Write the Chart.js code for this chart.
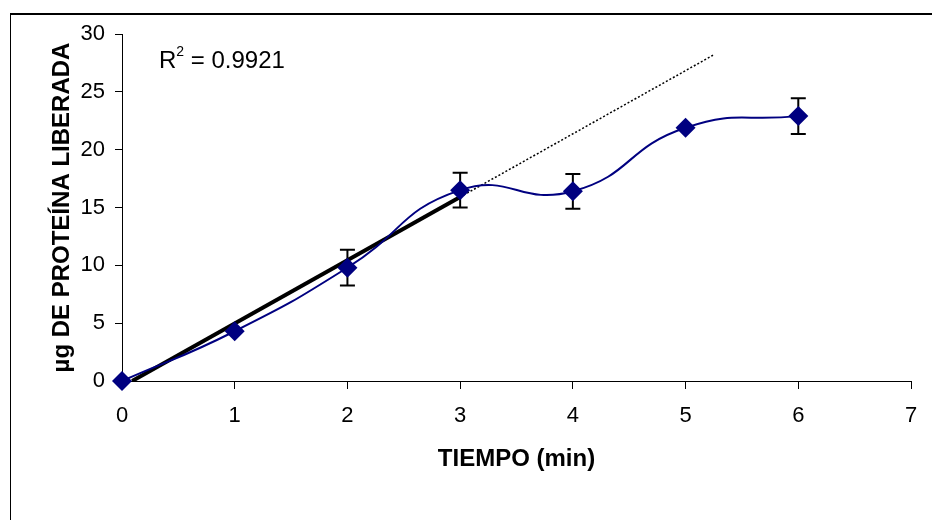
<!DOCTYPE html>
<html>
<head>
<meta charset="utf-8">
<script src="https://cdn.jsdelivr.net/npm/chart.js@4.4.1/dist/chart.umd.min.js"></script>
<style>
    html, body { margin: 0; padding: 0; background: #fff; }
    #wrap { position: relative; width: 932px; height: 520px; overflow: hidden; }
    #frame {
        position: absolute; left: 10px; top: 13px; width: 1000px; height: 1000px;
        border-top: 2px solid #000; border-left: 1px solid #000;
    }
    canvas { position: absolute; left: 0; top: 0; }
</style>
</head>
<body>
<div id="wrap">
    <div id="frame"></div>
    <canvas id="timeChart" width="932" height="520"></canvas>
</div>
<script>
// values
const timeMinutes = [0, 1, 2, 3, 4, 5, 6];
const proteinUg = [0, 4.3, 9.8, 16.5, 16.4, 21.9, 22.9];
const proteinErr = [0, 0, 1.55, 1.5, 1.5, 0, 1.55];

// linear trendline (first four points) as drawn: thick over the data, dotted beyond
const trendSolidX = [0.09, 3];
const trendSolidY = [0, 15.9];
const trendDotX = [0.09, 5.25];
const trendDotY = [0, 28.2];
const r2Text = '0.9921';

const xAxisMax = 7;
const yAxisMax = 30;
const yAxisStep = 5;

const FONT = "'Liberation Sans', Arial, sans-serif";

function toPoints(xs, ys) {
    return xs.map((x, i) => ({ x: x, y: ys[i] }));
}

// error bars under the markers
const errorBars = {
    id: 'errorBars',
    beforeDatasetsDraw(chart) {
        const ctx = chart.ctx;
        const xs = chart.scales.x;
        const ys = chart.scales.y;
        ctx.save();
        ctx.strokeStyle = '#000';
        ctx.lineWidth = 2;
        timeMinutes.forEach((t, i) => {
            const e = proteinErr[i];
            if (!e) return;
            const px = xs.getPixelForValue(t);
            const top = ys.getPixelForValue(proteinUg[i] + e);
            const bot = ys.getPixelForValue(proteinUg[i] - e);
            ctx.beginPath();
            ctx.moveTo(px, top); ctx.lineTo(px, bot);
            ctx.moveTo(px - 7.5, top); ctx.lineTo(px + 7.5, top);
            ctx.moveTo(px - 7.5, bot); ctx.lineTo(px + 7.5, bot);
            ctx.stroke();
        });
        ctx.restore();
    }
};

// R² label
const r2Label = {
    id: 'r2Label',
    afterDraw(chart) {
        const ctx = chart.ctx;
        ctx.save();
        ctx.fillStyle = '#000';
        ctx.textBaseline = 'alphabetic';
        ctx.font = '24px ' + FONT;
        let x = 159;
        ctx.fillText('R', x, 68);
        x += ctx.measureText('R').width;
        ctx.font = '14px ' + FONT;
        ctx.fillText('2', x, 56);
        x += ctx.measureText('2').width;
        ctx.font = '24px ' + FONT;
        ctx.fillText(' = ' + r2Text, x, 68);
        ctx.restore();
    }
};

new Chart(document.getElementById('timeChart'), {
    type: 'scatter',
    data: {
        datasets: [{
            label: 'Proteína',
            data: toPoints(timeMinutes, proteinUg),
            showLine: true,
            tension: 0.5,
            clip: false,
            borderColor: '#000080',
            borderWidth: 2,
            pointStyle: 'rectRot',
            pointRadius: 10,
            pointBackgroundColor: '#000080',
            pointBorderColor: '#000080',
            pointBorderWidth: 0
        }, {
            label: 'Tendencia',
            data: toPoints(trendSolidX, trendSolidY),
            showLine: true,
            borderColor: '#000',
            borderWidth: 4,
            pointRadius: 0
        }, {
            label: 'Tendencia ext',
            data: toPoints(trendDotX, trendDotY),
            showLine: true,
            borderColor: '#000',
            borderWidth: 1.5,
            borderDash: [2, 2],
            pointRadius: 0
        }]
    },
    options: {
        responsive: false,
        animation: false,
        devicePixelRatio: 1,
        layout: { padding: { top: 34, right: 21, left: 0, bottom: 0 } },
        plugins: {
            legend: { display: false },
            tooltip: { enabled: false }
        },
        scales: {
            x: {
                type: 'linear',
                min: 0,
                max: xAxisMax,
                afterFit(scale) { scale.height = 139; },
                ticks: {
                    stepSize: 1,
                    color: '#000',
                    padding: 14,
                    font: { family: FONT, size: 22 }
                },
                grid: { drawOnChartArea: false, drawTicks: true, tickLength: 8, color: '#000' },
                border: { color: '#000', width: 1 },
                title: {
                    display: true,
                    text: 'TIEMPO (min)',
                    color: '#000',
                    font: { family: FONT, size: 24, weight: 'bold' },
                    padding: { top: 0, bottom: 46 }
                }
            },
            y: {
                type: 'linear',
                min: 0,
                max: yAxisMax,
                afterFit(scale) { scale.width = 122; },
                ticks: {
                    stepSize: yAxisStep,
                    color: '#000',
                    padding: 10,
                    font: { family: FONT, size: 22 }
                },
                grid: { drawOnChartArea: false, drawTicks: true, tickLength: 7, color: '#000' },
                border: { color: '#000', width: 1 },
                title: {
                    display: true,
                    text: 'µg DE PROTEÍNA LIBERADA',
                    color: '#000',
                    font: { family: FONT, size: 24, weight: 'bold' },
                    padding: { top: 48, bottom: 0 }
                }
            }
        }
    },
    plugins: [errorBars, r2Label]
});
</script>
</body>
</html>
